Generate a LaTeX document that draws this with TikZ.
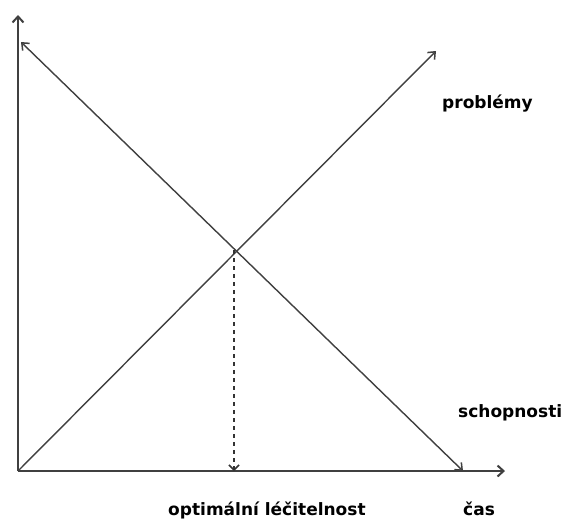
\documentclass[tikz,border=0pt]{standalone}
\usepackage{fontspec}
\setmainfont{DejaVu Sans}
\usetikzlibrary{arrows.meta}
\begin{document}
\begin{tikzpicture}[x=1pt,y=-1pt,
  axisline/.style={draw=black!75,line width=2.2pt,-{Straight Barb[length=6pt,width=11pt,line width=2pt]}},
  diagline/.style={draw=black!75,line width=1.4pt},
  lbl/.style={font=\fontsize{17}{20}\selectfont\bfseries,text=black,inner sep=0pt,anchor=base west}]
\useasboundingbox (0,0) rectangle (569,520);
\fill[white] (0,0) rectangle (569,520);
\coordinate (O) at (18,471);
\coordinate (Y) at (18,15);
\coordinate (X) at (505,471);
\coordinate (A) at (21,42);
\coordinate (B) at (463,471);
\coordinate (C) at (436,51);
\coordinate (I) at (234,250);
\coordinate (F) at (234,471);
\draw[axisline] (O) -- (Y);
\draw[axisline] (O) -- (X);
\draw[diagline,{Straight Barb[length=6pt,width=10pt,line width=1.5pt]}-{Straight Barb[length=6pt,width=10pt,line width=1.5pt]}] (B) -- (A);
\draw[diagline,-{Straight Barb[length=6pt,width=10pt,line width=1.5pt]}] (O) -- (C);
\draw[draw=black!80,line width=1.5pt,dash pattern=on 4pt off 4pt,-{Straight Barb[length=5pt,width=10pt,line width=1.5pt]}] (I) -- (F);
\node[lbl] (p) at (442,108) {problémy};
\node[lbl] (s) at (458,417) {schopnosti};
\node[lbl] (o) at (168,515) {optimální léčitelnost};
\node[lbl] (c) at (463,515) {čas};
\end{tikzpicture}
\end{document}
